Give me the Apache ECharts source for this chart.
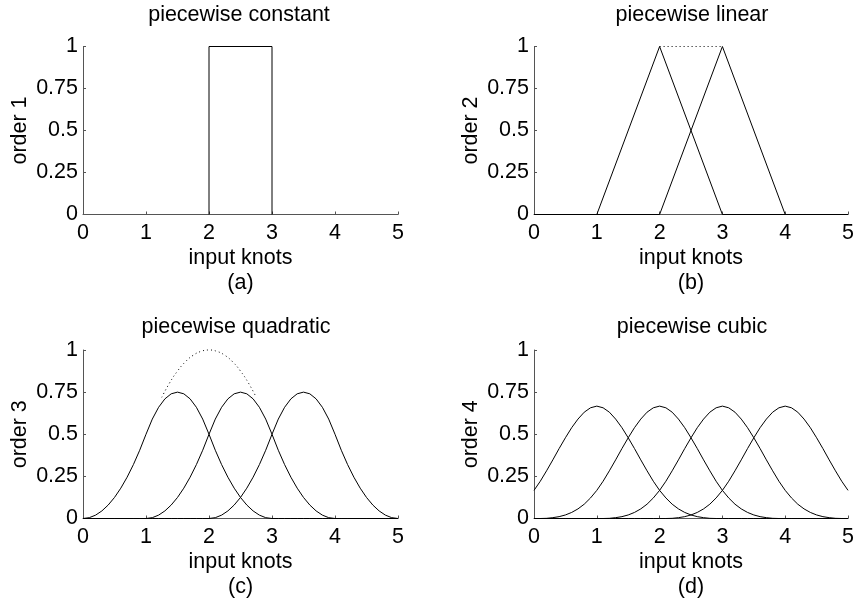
<!DOCTYPE html>
<html>
<head>
<meta charset="utf-8">
<title>B-spline basis functions</title>
<script src="https://cdn.jsdelivr.net/npm/echarts@6/dist/echarts.min.js"></script>
<style>
  html, body { margin: 0; padding: 0; background: #fff; }
  #chart { width: 857px; height: 602px; }
</style>
</head>
<body>
<div id="chart"></div>
<script>
// ---- data ----
const panelTitles = ['piecewise constant', 'piecewise linear', 'piecewise quadratic', 'piecewise cubic'];
const orderLabels = ['order 1', 'order 2', 'order 3', 'order 4'];
const panelTags = ['(a)', '(b)', '(c)', '(d)'];
const xTicks = [0, 1, 2, 3, 4, 5];
const yTicks = [0, 0.25, 0.5, 0.75, 1];

// order 1: single box on [2, 3]
const constX = [2, 2, 3, 3];
const constY = [0, 1, 1, 0];

// order 2: hat functions
const linX1 = [0, 1, 2, 3, 5];
const linY1 = [0, 0, 1, 0, 0];
const linX2 = [0, 2, 3, 4, 5];
const linY2 = [0, 0, 1, 0, 0];
const linSumX = [2, 3];
const linSumY = [1, 1];

// shared sample grid for orders 3 and 4
const sampleX = [0, 0.1, 0.2, 0.3, 0.4, 0.5, 0.6, 0.7, 0.8, 0.9,
  1, 1.1, 1.2, 1.3, 1.4, 1.5, 1.6, 1.7, 1.8, 1.9,
  2, 2.1, 2.2, 2.3, 2.4, 2.5, 2.6, 2.7, 2.8, 2.9,
  3, 3.1, 3.2, 3.3, 3.4, 3.5, 3.6, 3.7, 3.8, 3.9,
  4, 4.1, 4.2, 4.3, 4.4, 4.5, 4.6, 4.7, 4.8, 4.9, 5];

// order 3: quadratic pieces
const quadY1 = [0, 0.005, 0.02, 0.045, 0.08, 0.125, 0.18, 0.245, 0.32, 0.405,
  0.5, 0.59, 0.66, 0.71, 0.74, 0.75, 0.74, 0.71, 0.66, 0.59,
  0.5, 0.405, 0.32, 0.245, 0.18, 0.125, 0.08, 0.045, 0.02, 0.005,
  0, 0, 0, 0, 0, 0, 0, 0, 0, 0,
  0, 0, 0, 0, 0, 0, 0, 0, 0, 0, 0];
const quadY2 = [0, 0, 0, 0, 0, 0, 0, 0, 0, 0,
  0, 0.005, 0.02, 0.045, 0.08, 0.125, 0.18, 0.245, 0.32, 0.405,
  0.5, 0.59, 0.66, 0.71, 0.74, 0.75, 0.74, 0.71, 0.66, 0.59,
  0.5, 0.405, 0.32, 0.245, 0.18, 0.125, 0.08, 0.045, 0.02, 0.005,
  0, 0, 0, 0, 0, 0, 0, 0, 0, 0, 0];
const quadY3 = [0, 0, 0, 0, 0, 0, 0, 0, 0, 0,
  0, 0, 0, 0, 0, 0, 0, 0, 0, 0,
  0, 0.005, 0.02, 0.045, 0.08, 0.125, 0.18, 0.245, 0.32, 0.405,
  0.5, 0.59, 0.66, 0.71, 0.74, 0.75, 0.74, 0.71, 0.66, 0.59,
  0.5, 0.405, 0.32, 0.245, 0.18, 0.125, 0.08, 0.045, 0.02, 0.005, 0];
const quadSumX = [1.25, 1.375, 1.5, 1.625, 1.75, 1.875, 2, 2.125, 2.25, 2.375, 2.5, 2.625, 2.75];
const quadSumY = [0.719, 0.805, 0.875, 0.93, 0.969, 0.992, 1, 0.992, 0.969, 0.93, 0.875, 0.805, 0.719];

// order 4: cubic pieces
const cubY1 = [0.167, 0.221, 0.283, 0.348, 0.415, 0.479, 0.539, 0.59, 0.631, 0.657,
  0.667, 0.657, 0.631, 0.59, 0.539, 0.479, 0.415, 0.348, 0.283, 0.221,
  0.167, 0.122, 0.085, 0.057, 0.036, 0.021, 0.011, 0.005, 0.001, 0,
  0, 0, 0, 0, 0, 0, 0, 0, 0, 0,
  0, 0, 0, 0, 0, 0, 0, 0, 0, 0, 0];
const cubY2 = [0, 0, 0.001, 0.005, 0.011, 0.021, 0.036, 0.057, 0.085, 0.122,
  0.167, 0.221, 0.283, 0.348, 0.415, 0.479, 0.539, 0.59, 0.631, 0.657,
  0.667, 0.657, 0.631, 0.59, 0.539, 0.479, 0.415, 0.348, 0.283, 0.221,
  0.167, 0.122, 0.085, 0.057, 0.036, 0.021, 0.011, 0.005, 0.001, 0,
  0, 0, 0, 0, 0, 0, 0, 0, 0, 0, 0];
const cubY3 = [0, 0, 0, 0, 0, 0, 0, 0, 0, 0,
  0, 0, 0.001, 0.005, 0.011, 0.021, 0.036, 0.057, 0.085, 0.122,
  0.167, 0.221, 0.283, 0.348, 0.415, 0.479, 0.539, 0.59, 0.631, 0.657,
  0.667, 0.657, 0.631, 0.59, 0.539, 0.479, 0.415, 0.348, 0.283, 0.221,
  0.167, 0.122, 0.085, 0.057, 0.036, 0.021, 0.011, 0.005, 0.001, 0, 0];
const cubY4 = [0, 0, 0, 0, 0, 0, 0, 0, 0, 0,
  0, 0, 0, 0, 0, 0, 0, 0, 0, 0,
  0, 0, 0.001, 0.005, 0.011, 0.021, 0.036, 0.057, 0.085, 0.122,
  0.167, 0.221, 0.283, 0.348, 0.415, 0.479, 0.539, 0.59, 0.631, 0.657,
  0.667, 0.657, 0.631, 0.59, 0.539, 0.479, 0.415, 0.348, 0.283, 0.221, 0.167];

// ---- layout / styling ----
const FONT = '"Liberation Sans", Arial, Helvetica, sans-serif';
const FS = 21.5;
const grids = [
  { left: 83, top: 46.5, width: 315, height: 168 },
  { left: 534, top: 46.5, width: 315, height: 168 },
  { left: 83, top: 350, width: 315, height: 168.5 },
  { left: 534, top: 350, width: 315, height: 168.5 }
];
const titlePos = [[239, 15], [692, 15], [236, 327], [692, 327]];

function pairs(xs, ys) { return xs.map((x, i) => [x, ys[i]]); }

const xAxes = grids.map((g, i) => ({
  type: 'value', gridIndex: i, min: xTicks[0], max: xTicks[xTicks.length - 1], interval: 1,
  axisLine: { show: true, onZero: false, lineStyle: { color: '#555', width: 1 } },
  axisTick: { show: true, inside: true, length: 3, lineStyle: { color: '#555' } },
  splitLine: { show: false },
  axisLabel: { color: '#000', fontSize: FS, fontFamily: FONT, margin: 8 },
  name: 'input knots\n' + panelTags[i], nameLocation: 'middle', nameGap: 31,
  nameTextStyle: { color: '#000', fontSize: FS, fontFamily: FONT, lineHeight: 25 }
}));
const yAxes = grids.map((g, i) => ({
  type: 'value', gridIndex: i, min: yTicks[0], max: yTicks[yTicks.length - 1], interval: 0.25,
  axisLine: { show: true, onZero: false, lineStyle: { color: '#555', width: 1 } },
  axisTick: { show: true, inside: true, length: 3, lineStyle: { color: '#555' } },
  splitLine: { show: false },
  axisLabel: { color: '#000', fontSize: FS, fontFamily: FONT, margin: 5 },
  name: orderLabels[i], nameLocation: 'middle', nameGap: 52,
  nameTextStyle: { color: '#000', fontSize: FS, fontFamily: FONT }
}));

function curve(idx, data, dotted, smooth) {
  return {
    type: 'line', xAxisIndex: idx, yAxisIndex: idx, data: data,
    symbol: 'none', clip: false, smooth: !!smooth, silent: true,
    lineStyle: { color: '#000', width: 1, type: dotted ? [1, 3] : 'solid' }
  };
}

const series = [
  curve(0, pairs(constX, constY)),
  curve(1, pairs(linX1, linY1)),
  curve(1, pairs(linX2, linY2)),
  curve(1, pairs(linSumX, linSumY), true),
  curve(2, pairs(sampleX, quadY1)),
  curve(2, pairs(sampleX, quadY2)),
  curve(2, pairs(sampleX, quadY3)),
  curve(2, pairs(quadSumX, quadSumY), true, true),
  curve(3, pairs(sampleX, cubY1)),
  curve(3, pairs(sampleX, cubY2)),
  curve(3, pairs(sampleX, cubY3)),
  curve(3, pairs(sampleX, cubY4))
];

const titles = panelTitles.map((t, i) => ({
  type: 'text', x: titlePos[i][0], y: titlePos[i][1], silent: true,
  style: { text: t, fill: '#000', fontSize: FS, fontFamily: FONT, align: 'center', verticalAlign: 'middle' }
}));

const chart = echarts.init(document.getElementById('chart'), null, { renderer: 'canvas' });
chart.setOption({
  animation: false,
  backgroundColor: '#fff',
  grid: grids,
  xAxis: xAxes,
  yAxis: yAxes,
  series: series,
  graphic: titles
});
</script>
</body>
</html>
